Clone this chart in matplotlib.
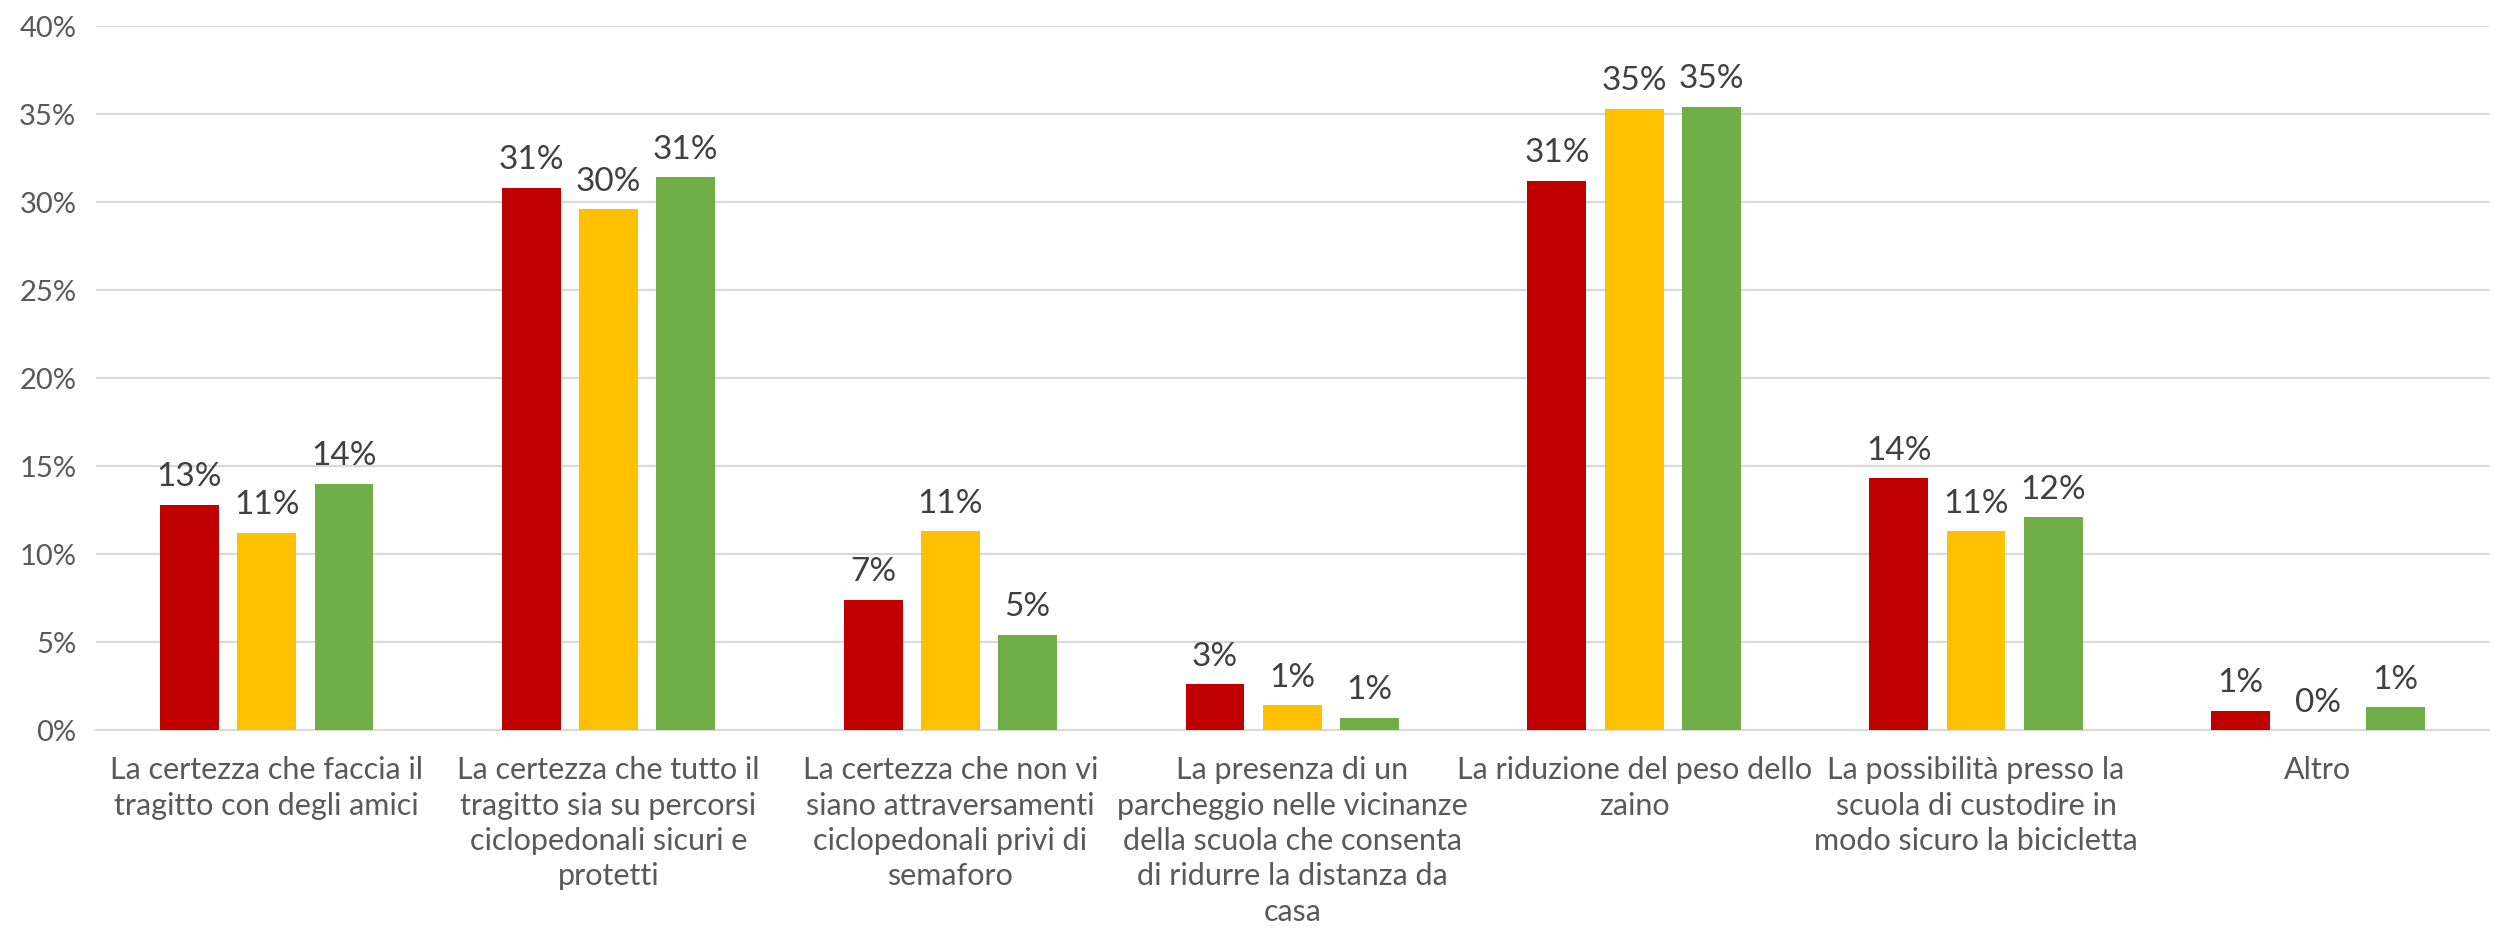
import matplotlib
matplotlib.use("Agg")
import matplotlib.pyplot as plt
import numpy as np

categories = [
    "La certezza che faccia il\ntragitto con degli amici",
    "La certezza che tutto il\ntragitto sia su percorsi\nciclopedonali sicuri e\nprotetti",
    "La certezza che non vi\nsiano attraversamenti\nciclopedonali privi di\nsemaforo",
    "La presenza di un\nparcheggio nelle vicinanze\ndella scuola che consenta\ndi ridurre la distanza da\ncasa",
    "La riduzione del peso dello\nzaino",
    "La possibilità presso la\nscuola di custodire in\nmodo sicuro la bicicletta",
    "Altro",
]
serie_rossa = [12.8, 30.8, 7.4, 2.6, 31.2, 14.3, 1.1]
serie_gialla = [11.2, 29.6, 11.3, 1.4, 35.3, 11.3, 0.0]
serie_verde = [14.0, 31.4, 5.4, 0.7, 35.4, 12.1, 1.3]
yticks = [0, 5, 10, 15, 20, 25, 30, 35, 40]

colors = ["#C00000", "#FFC000", "#70AD47"]
series = [serie_rossa, serie_gialla, serie_verde]

plt.rcParams['font.family'] = ['Lato', 'DejaVu Sans']

fig = plt.figure(figsize=(25.19, 9.4), dpi=100)
ax = fig.add_axes([0.038, 0.2234, 0.950, 0.7489])

x = np.arange(len(categories))
bw = 0.172
step = 0.226
for i, (vals, c) in enumerate(zip(series, colors)):
    pos = x + (i - 1) * step
    bars = ax.bar(pos, vals, width=bw, color=c, zorder=3)
    for b, v in zip(bars, vals):
        ax.annotate(f"{round(v):d}%", (b.get_x() + b.get_width() / 2, v),
                    xytext=(0, 9), textcoords="offset points",
                    ha="center", va="bottom", fontsize=24, color="#404040")

ax.set_ylim(0, 40)
ax.set_xlim(-0.5, len(categories) - 0.5)
ax.set_yticks(yticks)
ax.set_yticklabels([f"{t}%" for t in yticks], fontsize=21, color="#595959")
ax.set_xticks(x)
ax.set_xticklabels(categories, fontsize=22, color="#595959", linespacing=1.32)
ax.tick_params(axis="both", length=0)
ax.tick_params(axis="x", pad=19)
ax.tick_params(axis="y", pad=14)
ax.grid(axis="y", color="#D9D9D9", linewidth=1.5, zorder=0)
for s in ["top", "right", "left"]:
    ax.spines[s].set_visible(False)
ax.spines["bottom"].set_color("#D9D9D9")
ax.spines["bottom"].set_linewidth(1.5)

fig.savefig("out.png", dpi=100)
